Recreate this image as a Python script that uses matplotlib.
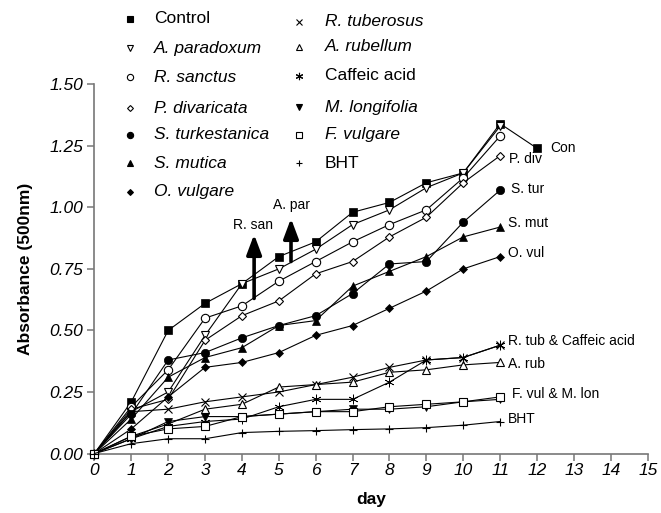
import matplotlib
matplotlib.use("Agg")
import matplotlib.pyplot as plt
from matplotlib.lines import Line2D

plt.rcParams['font.family'] = ['Liberation Sans', 'DejaVu Sans']

days = list(range(0, 12))
days_control = list(range(0, 13))

control = [0, 0.21, 0.50, 0.61, 0.69, 0.80, 0.86, 0.98, 1.02, 1.10, 1.14, 1.34, 1.24]
a_par = [0, 0.17, 0.25, 0.48, 0.69, 0.75, 0.83, 0.93, 0.99, 1.08, 1.14, 1.33]
r_san = [0, 0.19, 0.34, 0.55, 0.60, 0.70, 0.78, 0.86, 0.93, 0.99, 1.12, 1.29]
p_div = [0, 0.18, 0.22, 0.46, 0.56, 0.62, 0.73, 0.78, 0.88, 0.96, 1.10, 1.21]
s_tur = [0, 0.16, 0.38, 0.41, 0.47, 0.52, 0.56, 0.65, 0.77, 0.78, 0.94, 1.07]
s_mut = [0, 0.14, 0.31, 0.39, 0.43, 0.52, 0.54, 0.68, 0.74, 0.80, 0.88, 0.92]
o_vul = [0, 0.10, 0.23, 0.35, 0.37, 0.41, 0.48, 0.52, 0.59, 0.66, 0.75, 0.80]
r_tub = [0, 0.17, 0.18, 0.21, 0.23, 0.25, 0.28, 0.31, 0.35, 0.38, 0.39, 0.44]
a_rub = [0, 0.07, 0.12, 0.18, 0.20, 0.27, 0.28, 0.29, 0.33, 0.34, 0.36, 0.37]
caffeic = [0, 0.06, 0.11, 0.13, 0.14, 0.19, 0.22, 0.22, 0.29, 0.38, 0.39, 0.44]
m_lon = [0, 0.06, 0.13, 0.15, 0.15, 0.16, 0.17, 0.18, 0.18, 0.19, 0.21, 0.22]
f_vul = [0, 0.07, 0.10, 0.11, 0.15, 0.16, 0.17, 0.17, 0.19, 0.20, 0.21, 0.23]
bht = [0, 0.04, 0.06, 0.06, 0.085, 0.09, 0.093, 0.097, 0.10, 0.105, 0.115, 0.13]

x_ticks = list(range(0, 16))
y_ticks = [0.00, 0.25, 0.50, 0.75, 1.00, 1.25, 1.50]

# (label, italic, x, y, marker, filled, size)
series = [
    ("Control", False, days_control, control, 's', True, 5.5),
    ("A. paradoxum", True, days, a_par, 'v', False, 5.5),
    ("R. sanctus", True, days, r_san, 'o', False, 6),
    ("P. divaricata", True, days, p_div, 'D', False, 4),
    ("S. turkestanica", True, days, s_tur, 'o', True, 6),
    ("S. mutica", True, days, s_mut, '^', True, 6),
    ("O. vulgare", True, days, o_vul, 'D', True, 4),
    ("R. tuberosus", True, days, r_tub, 'x', True, 6),
    ("A. rubellum", True, days, a_rub, '^', False, 6),
    ("Caffeic acid", False, days, caffeic, (6, 2, 0), True, 7),
    ("M. longifolia", True, days, m_lon, 'v', True, 6),
    ("F. vulgare", True, days, f_vul, 's', False, 5.5),
    ("BHT", False, days, bht, '+', True, 6),
]

W, H = 661, 513
fig = plt.figure(figsize=(W / 100, H / 100), dpi=100)
ax = fig.add_axes([94.4 / W, 1 - 453.5 / H, (647.7 - 94.4) / W, (453.5 - 84.3) / H])

for label, ital, xs, ys, mk, filled, ms in series:
    ax.plot(xs, ys, color='black', lw=0.8, marker=mk, markersize=ms,
            markerfacecolor='black' if filled else 'white',
            markeredgecolor='black', markeredgewidth=0.8 if not filled or mk in ('x', '+') else 0.5,
            clip_on=False, zorder=3)

ax.set_xlim(0, 15)
ax.set_ylim(0, 1.5)
ax.set_xticks(x_ticks)
ax.set_xticklabels([str(v) for v in x_ticks], fontstyle='italic', fontsize=12.5)
ax.set_yticks(y_ticks)
ax.set_yticklabels([f"{v:.2f}" for v in y_ticks], fontstyle='italic', fontsize=12.5)
for s in ['top', 'right']:
    ax.spines[s].set_visible(False)
for s in ['left', 'bottom']:
    ax.spines[s].set_color('#777777')
    ax.spines[s].set_linewidth(1.2)
ax.tick_params(axis='both', direction='out', length=5, width=1.1, color='#777777')
ax.tick_params(axis='x', pad=2)
ax.tick_params(axis='y', pad=3)

ax.set_xlabel('day', fontsize=12.5, fontweight='bold', labelpad=10)
ax.set_ylabel('Absorbance (500nm)', fontsize=12.5, fontweight='bold', labelpad=12)

# arrows
arr = dict(arrowstyle='-|>,head_length=1.2,head_width=0.45', lw=2.6, color='black',
           mutation_scale=10, shrinkA=0, shrinkB=0)
ax.annotate('', xy=(4.33, 0.89), xytext=(4.33, 0.63), arrowprops=arr)
ax.annotate('', xy=(5.33, 0.955), xytext=(5.33, 0.78), arrowprops=arr)
ax.text(4.30, 0.93, 'R. san', fontsize=10, ha='center', va='center')
ax.text(5.33, 1.01, 'A. par', fontsize=10, ha='center', va='center')

# right side labels
right_labels = [
    (12.35, 1.24, 'Con'),
    (11.25, 1.196, 'P. div'),
    (11.30, 1.074, 'S. tur'),
    (11.20, 0.936, 'S. mut'),
    (11.20, 0.814, 'O. vul'),
    (11.20, 0.459, 'R. tub & Caffeic acid'),
    (11.20, 0.363, 'A. rub'),
    (11.33, 0.242, 'F. vul & M. lon'),
    (11.20, 0.139, 'BHT'),
]
for x, y, t in right_labels:
    ax.text(x, y, t, fontsize=10, ha='left', va='center')

# legend (manual)
col1 = series[:7]
col2 = series[7:]
rows1 = [19, 48.3, 77.3, 108.3, 135, 163.3, 191.7]
rows2 = [21.7, 46.7, 76, 107.3, 135, 163.3]
for (entries, rows, mx, tx) in [(col1, rows1, 130, 154), (col2, rows2, 299, 325)]:
    for (label, ital, xs, ys, mk, filled, ms), ry in zip(entries, rows):
        yf = 1 - ry / H
        fig.add_artist(Line2D([mx / W], [yf], marker=mk, markersize=ms * 0.75,
                              markerfacecolor='black' if filled else 'white',
                              markeredgecolor='black', markeredgewidth=0.8,
                              linestyle='none', transform=fig.transFigure))
        fig.text(tx / W, yf, label, fontsize=12.5, fontstyle='italic' if ital else 'normal',
                 ha='left', va='center')

fig.savefig('out.png', dpi=100)
